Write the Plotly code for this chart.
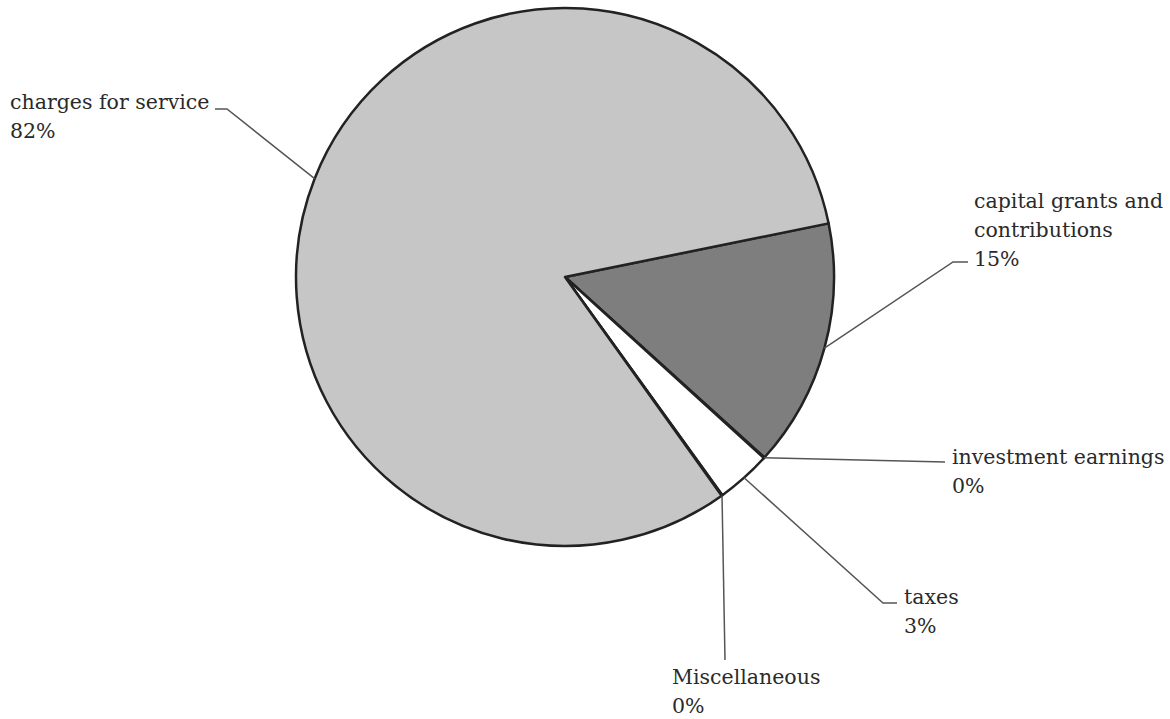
import math
import plotly.graph_objects as go

# ---- data (clockwise order, starting at the capital grants slice) ----
categories = ["capital grants and contributions", "investment earnings", "taxes",
              "Miscellaneous", "charges for service"]
values = [14.9, 0.05, 3.3, 0.05, 81.7]
label_lines = [["capital grants and", "contributions"], ["investment earnings"], ["taxes"],
               ["Miscellaneous"], ["charges for service"]]

# ---- layout / style ----
W, H = 1170, 719
CX, CY, R = 565, 277, 269          # pie centre and radius in pixels
ROTATION = 78.5                     # start angle, degrees clockwise from 12 o'clock
colors = ["#7e7e7e", "#a0a0a0", "#ffffff", "#a0a0a0", "#c6c6c6"]
FONT = "DejaVu Serif"
FS = 20.5
LINE_GAP = 29
TEXT_COLOR = "#2a2a2a"
LEADER_COLOR = "#555555"

# label placement: text left x, first baseline y, leader path after the slice anchor
label_layout = [
    dict(x=972, y=207, path=[(953, 262), (968, 262)]),
    dict(x=950, y=463, path=[(945, 462)]),
    dict(x=902, y=603, path=[(883, 603), (897, 603)]),
    dict(x=670, y=683, path=[(725, 660)]),
    dict(x=8, y=108, path=[(227, 109), (215, 109)]),
]


def px(x):
    return x / W


def py(y):
    return 1 - y / H


total = sum(values)
pct = [round(v / total * 100) for v in values]

fig = go.Figure(go.Pie(
    labels=categories, values=values, sort=False, direction="clockwise",
    rotation=ROTATION, textinfo="none", hoverinfo="label+percent",
    marker=dict(colors=colors, line=dict(color="#222222", width=2.5)),
    domain=dict(x=[px(CX - R), px(CX + R)], y=[py(CY + R), py(CY - R)]),
    showlegend=False,
))

shapes = []
annotations = []
angle = ROTATION
for name_lines, v, p, lay in zip(label_lines, values, pct, label_layout):
    span = v / total * 360
    mid = math.radians(angle + span / 2)
    angle += span
    ax = CX + R * math.sin(mid)
    ay = CY - R * math.cos(mid)
    pts = [(ax, ay)] + lay["path"]
    path = "M " + " L ".join(f"{px(a)},{py(b)}" for a, b in pts)
    shapes.append(dict(type="path", xref="paper", yref="paper", path=path,
                       line=dict(color=LEADER_COLOR, width=1.5)))
    lines = name_lines + [f"{p}%"]
    for i, t in enumerate(lines):
        base = lay["y"] + i * LINE_GAP
        annotations.append(dict(
            text=t, x=px(lay["x"]), y=py(base - 6), xref="paper", yref="paper",
            xanchor="left", yanchor="middle", showarrow=False,
            font=dict(family=FONT, size=FS, color=TEXT_COLOR)))

fig.update_layout(
    width=W, height=H, margin=dict(l=0, r=0, t=0, b=0),
    paper_bgcolor="white", plot_bgcolor="white",
    shapes=shapes, annotations=annotations,
)

fig.write_html("out.html", config={"displayModeBar": False},
               post_script="document.body.style.margin='0';document.body.style.overflow='hidden';")
